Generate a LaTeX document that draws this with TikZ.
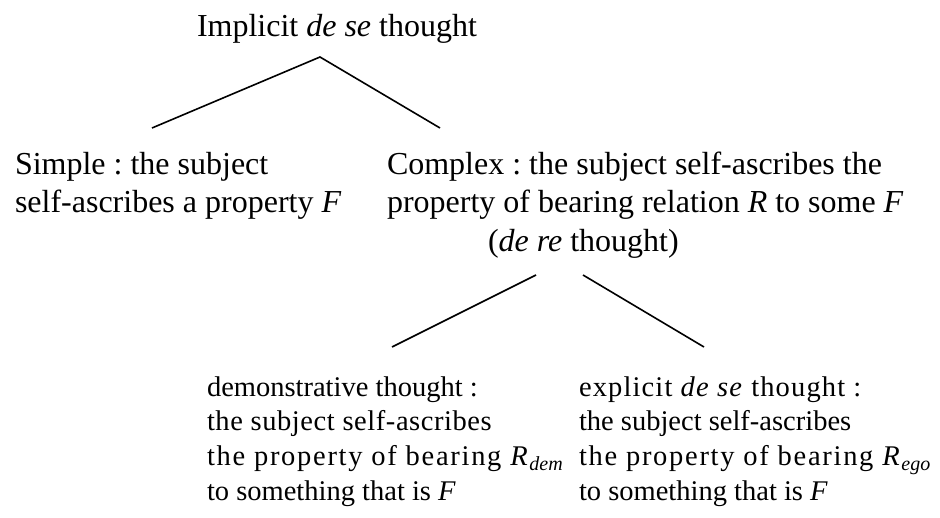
\documentclass[tikz,border=0pt]{standalone}
\usepackage{fontspec}
\setmainfont{Liberation Serif}
\newcommand{\subit}[1]{\raisebox{-5pt}{\fontsize{20}{20}\selectfont\textit{#1}}}
\newcommand{\lsp}[2]{{\addfontfeature{LetterSpace=#1}#2}}
\begin{document}
\frenchspacing
\begin{tikzpicture}[x=1pt,y=-1pt,
  every node/.style={inner sep=0pt,outer sep=0pt,anchor=base west},
  branch/.style={line width=1.6pt},
  upper/.style={font=\fontsize{32}{38.5}\selectfont},
  lower/.style={font=\fontsize{28.5}{34.8}\selectfont}]
\useasboundingbox (0,0) rectangle (940,517);
\node[upper] (root) at (197,36) {Implicit \textit{de se} thought};
\node[upper] (simple) at (15,174) {\begin{tabular}[t]{@{}l@{}}Simple : the subject\\ self-ascribes a property \textit{F}\end{tabular}};
\node[upper] (complex) at (387,174) {\begin{tabular}[t]{@{}l@{}}Complex : the subject self-ascribes the\\ property of bearing relation \textit{R} to some \textit{F}\\ \hspace*{101pt}(\textit{de re} thought)\end{tabular}};
\node[lower] (demo) at (207,396) {\begin{tabular}[t]{@{}l@{}}demonstrative thought :\\ \lsp{2}{the subject self-ascribes}\\ \lsp{6}{the property of bearing \textit{R}}\subit{dem}\\ to something that is \textit{F}\end{tabular}};
\node[lower] (expl) at (579,396) {\begin{tabular}[t]{@{}l@{}}\lsp{4}{explicit \textit{de se} thought :}\\ the subject self-ascribes\\ \lsp{6}{the property of bearing \textit{R}}\subit{ego}\\ to something that is \textit{F}\end{tabular}};
\coordinate (top) at (320,57);
\coordinate (topL) at (152,128);
\coordinate (topR) at (440,128);
\coordinate (midL) at (536,275);
\coordinate (midR) at (583,275);
\coordinate (botL) at (392,347);
\coordinate (botR) at (704,347);
\draw[branch] (topL) -- (top) -- (topR);
\draw[branch] (midL) -- (botL);
\draw[branch] (midR) -- (botR);
\end{tikzpicture}
\end{document}
